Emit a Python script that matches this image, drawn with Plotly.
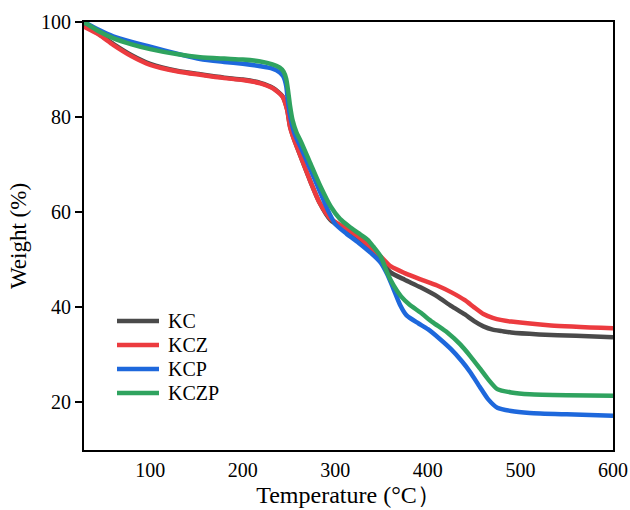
import plotly.graph_objects as go

# Thermogravimetric curves: weight (%) vs temperature (°C)
t_kc = [28.5, 45, 60, 80, 100, 130, 154, 180, 200, 219, 233, 243, 248, 251, 255, 262,
        272, 283, 295, 310, 325, 340, 352, 360, 375, 392, 410, 425, 440, 450, 460,
        470, 480, 490, 520, 560, 600]
w_kc = [99.2, 97.4, 95.4, 93.0, 91.2, 89.7, 89.0, 88.3, 87.9, 87.2, 86.1, 84.4, 81.6,
        78.2, 75.6, 72.0, 67.0, 62.0, 58.3, 56.3, 54.2, 51.8, 49.0, 47.3, 45.8, 44.2,
        42.3, 40.3, 38.5, 37.1, 36.0, 35.3, 35.0, 34.7, 34.3, 34.0, 33.7]

t_kcz = [28.5, 45, 60, 80, 100, 130, 154, 180, 200, 219, 233, 243, 248, 251, 255, 262,
         272, 283, 295, 310, 325, 340, 350, 360, 375, 392, 410, 425, 440, 450, 460,
         470, 480, 490, 533, 600]
w_kcz = [99.0, 97.3, 95.2, 92.8, 91.0, 89.6, 88.9, 88.2, 87.8, 87.1, 86.0, 84.3, 81.5,
         78.0, 75.5, 72.0, 67.0, 62.0, 58.6, 56.8, 54.8, 52.3, 50.5, 48.6, 47.2, 45.9,
         44.6, 43.2, 41.5, 40.0, 38.6, 37.8, 37.3, 37.0, 36.2, 35.6]

t_kcp = [28.5, 45, 60, 80, 100, 130, 154, 180, 200, 219, 232, 240, 244, 247, 249, 252,
         256, 263, 272, 283, 293, 300, 312, 325, 338, 349, 356, 363, 370, 377, 390,
         400, 412, 425, 437, 446, 456, 465, 475, 490, 510, 550, 600]
w_kcp = [100.0, 98.3, 97.0, 95.8, 94.8, 93.3, 92.2, 91.6, 91.2, 90.7, 90.2, 89.4, 88.5,
         86.5, 83.0, 79.5, 76.5, 73.5, 69.5, 64.5, 60.0, 57.5, 55.5, 53.6, 51.5, 49.4,
         47.0, 43.8, 40.5, 38.3, 36.6, 35.4, 33.5, 31.2, 28.6, 26.3, 23.3, 20.7, 18.9,
         18.2, 17.8, 17.5, 17.2]

t_kczp = [28.5, 45, 60, 80, 100, 130, 154, 180, 200, 219, 232, 240, 244, 247, 249, 251,
          254, 258, 263, 273, 284, 295, 305, 315, 325, 335, 341, 349, 356, 363, 371,
          380, 392, 405, 421, 435, 446, 456, 465, 475, 490, 510, 550, 600]
w_kczp = [100.0, 98.0, 96.6, 95.3, 94.3, 93.2, 92.6, 92.3, 92.1, 91.7, 91.1, 90.4, 89.6,
          88.0, 85.5, 82.5, 79.2, 76.8, 74.8, 70.3, 65.4, 61.2, 58.6, 57.0, 55.6, 54.2,
          52.8, 50.7, 47.3, 44.6, 42.3, 40.6, 38.9, 36.9, 34.7, 32.2, 29.7, 27.2, 24.9,
          22.8, 22.1, 21.7, 21.5, 21.4]

series = [
    ("KC", t_kc, w_kc, "#4a4a4a"),
    ("KCZ", t_kcz, w_kcz, "#ec3b3f"),
    ("KCP", t_kcp, w_kcp, "#1e68dc"),
    ("KCZP", t_kczp, w_kczp, "#2fa35f"),
]

x_ticks = [100, 200, 300, 400, 500, 600]
y_ticks = [20, 40, 60, 80, 100]

fig = go.Figure()
for name, t, w, color in series:
    fig.add_trace(go.Scatter(
        x=t, y=w, name=name, mode="lines", showlegend=False,
        line=dict(color=color, width=4.5, shape="spline", smoothing=0.6),
    ))

serif = "Times New Roman, Liberation Serif, serif"

# Key in the lower-left corner: a short line sample and the series name per row
plot_l, plot_r, plot_t, plot_b = 84, 613, 22, 450
def px_x(p):
    return (p - plot_l) / (plot_r - plot_l)
def px_y(p):
    return (plot_b - p) / (plot_b - plot_t)

key_rows = [321, 345, 369, 393]
for (name, _, _, color), row in zip(series, key_rows):
    fig.add_shape(type="line", xref="paper", yref="paper",
                  x0=px_x(117), x1=px_x(159), y0=px_y(row), y1=px_y(row),
                  line=dict(color=color, width=4.5))
    fig.add_annotation(xref="paper", yref="paper", x=px_x(166), y=px_y(row),
                       xanchor="left", yanchor="middle", showarrow=False,
                       text=name, font=dict(family=serif, size=20, color="black"))

fig.update_layout(
    width=630, height=510,
    margin=dict(l=plot_l, r=630 - plot_r, t=plot_t, b=510 - plot_b),
    paper_bgcolor="white", plot_bgcolor="white",
    font=dict(family=serif, size=20, color="black"),
    showlegend=False,
    xaxis=dict(
        range=[28.5, 600], tickvals=x_ticks, automargin=False,
        showline=True, linecolor="black", linewidth=1.8, mirror=True,
        showgrid=False, zeroline=False,
        ticks="outside", ticklen=1, tickcolor="rgba(0,0,0,0)",
        title=dict(text="Temperature (°C）", standoff=6, font=dict(size=24)),
        tickfont=dict(size=20),
    ),
    yaxis=dict(
        range=[10, 100], tickvals=y_ticks, automargin=False,
        showline=True, linecolor="black", linewidth=1.8, mirror=True,
        showgrid=False, zeroline=False,
        ticks="outside", ticklen=7, tickwidth=1.5, tickcolor="black",
        title=dict(text="Weight (%)", standoff=8, font=dict(size=23)),
        tickfont=dict(size=20),
    ),
)

fig.write_html("out.html")
